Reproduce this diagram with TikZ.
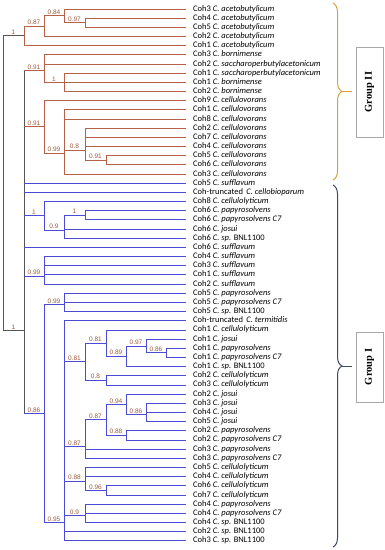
\documentclass[tikz,border=0pt]{standalone}
\usepackage{fontspec}
\setmainfont{Carlito}
\newfontfamily\labfont{Liberation Sans}
\newfontfamily\grpfont{Liberation Serif}
\usetikzlibrary{decorations.pathreplacing}
\definecolor{gII}{HTML}{B5614A}
\definecolor{gI}{HTML}{4B4BD6}
\definecolor{rootc}{HTML}{555555}
\definecolor{labc}{HTML}{9E5A3C}
\definecolor{braceII}{HTML}{D9A13F}
\definecolor{braceI}{HTML}{3E4A6A}
\definecolor{boxc}{HTML}{A8A8A8}
\newcommand\tredge[3]{\draw[#1] (#2 |- #3) -- (#3);}
\newcommand\tredgel[4]{\draw[#1] (#2 |- #3) -- node[bs]{#4} (#3);}
\newcommand\trvert[4]{\draw[#1] (#2 |- #3) -- (#2 |- #4);}
\begin{document}
\begin{tikzpicture}[x=1pt,y=-1pt,
  leaf/.style={anchor=west,inner xsep=7pt,inner ysep=0pt,text height=5.6pt,text depth=1.6pt,font=\fontsize{8.5}{9}\selectfont},
  redb/.style={line width=0.9pt,draw=gII,line cap=rect},
  blueb/.style={line width=0.9pt,draw=gI,line cap=rect},
  rootb/.style={line width=0.9pt,draw=rootc,line cap=rect},
  bs/.style={font=\labfont\fontsize{6.5}{7}\selectfont,text=labc,inner sep=0.9pt,above},
  grpbox/.style={draw=boxc,line width=0.7pt,fill=white,rotate=90,minimum height=27pt,inner sep=0pt,font=\grpfont\bfseries\fontsize{10.5}{12}\selectfont}
]
\useasboundingbox (0,0) rectangle (385,550);
% leaves
\node[leaf] (L1) at (186,9.00) {Coh3 \textit{C. acetobutylicum}};
\node[leaf] (L2) at (186,18.17) {Coh4 \textit{C. acetobutylicum}};
\node[leaf] (L3) at (186,27.34) {Coh5 \textit{C. acetobutylicum}};
\node[leaf] (L4) at (186,36.51) {Coh2 \textit{C. acetobutylicum}};
\node[leaf] (L5) at (186,45.68) {Coh1 \textit{C. acetobutylicum}};
\node[leaf] (L6) at (186,54.85) {Coh3 \textit{C. bornimense}};
\node[leaf] (L7) at (186,64.02) {Coh2 \textit{C. saccharoperbutylacetonicum}};
\node[leaf] (L8) at (186,73.19) {Coh1 \textit{C. saccharoperbutylacetonicum}};
\node[leaf] (L9) at (186,82.36) {Coh1 \textit{C. bornimense}};
\node[leaf] (L10) at (186,91.53) {Coh2 \textit{C. bornimense}};
\node[leaf] (L11) at (186,100.70) {Coh9 \textit{C. cellulovorans}};
\node[leaf] (L12) at (186,109.87) {Coh1 \textit{C. cellulovorans}};
\node[leaf] (L13) at (186,119.04) {Coh8 \textit{C. cellulovorans}};
\node[leaf] (L14) at (186,128.21) {Coh2 \textit{C. cellulovorans}};
\node[leaf] (L15) at (186,137.38) {Coh7 \textit{C. cellulovorans}};
\node[leaf] (L16) at (186,146.55) {Coh4 \textit{C. cellulovorans}};
\node[leaf] (L17) at (186,155.72) {Coh5 \textit{C. cellulovorans}};
\node[leaf] (L18) at (186,164.89) {Coh6 \textit{C. cellulovorans}};
\node[leaf] (L19) at (186,174.06) {Coh3 \textit{C. cellulovorans}};
\node[leaf] (L20) at (186,183.23) {Coh5 \textit{C. sufflavum}};
\node[leaf] (L21) at (186,192.40) {Coh-truncated\, \textit{C. cellobioparum}};
\node[leaf] (L22) at (186,201.57) {Coh8 \textit{C. cellulolyticum}};
\node[leaf] (L23) at (186,210.74) {Coh6 \textit{C. papyrosolvens}};
\node[leaf] (L24) at (186,219.91) {Coh6 \textit{C. papyrosolvens C7}};
\node[leaf] (L25) at (186,229.08) {Coh6 \textit{C. josui}};
\node[leaf] (L26) at (186,238.25) {Coh6 \textit{C. sp.} BNL1100};
\node[leaf] (L27) at (186,247.42) {Coh6 \textit{C. sufflavum}};
\node[leaf] (L28) at (186,256.59) {Coh4 \textit{C. sufflavum}};
\node[leaf] (L29) at (186,265.76) {Coh3 \textit{C. sufflavum}};
\node[leaf] (L30) at (186,274.93) {Coh1 \textit{C. sufflavum}};
\node[leaf] (L31) at (186,284.10) {Coh2 \textit{C. sufflavum}};
\node[leaf] (L32) at (186,293.27) {Coh5 \textit{C. papyrosolvens}};
\node[leaf] (L33) at (186,302.44) {Coh5 \textit{C. papyrosolvens C7}};
\node[leaf] (L34) at (186,311.61) {Coh5 \textit{C. sp.} BNL1100};
\node[leaf] (L35) at (186,320.78) {Coh-truncated\, \textit{C. termitidis}};
\node[leaf] (L36) at (186,329.95) {Coh1 \textit{C. cellulolyticum}};
\node[leaf] (L37) at (186,339.12) {Coh1 \textit{C. josui}};
\node[leaf] (L38) at (186,348.29) {Coh1 \textit{C. papyrosolvens}};
\node[leaf] (L39) at (186,357.46) {Coh1 \textit{C. papyrosolvens C7}};
\node[leaf] (L40) at (186,366.63) {Coh1 \textit{C. sp.} BNL1100};
\node[leaf] (L41) at (186,375.80) {Coh2 \textit{C. cellulolyticum}};
\node[leaf] (L42) at (186,384.97) {Coh3 \textit{C. cellulolyticum}};
\node[leaf] (L43) at (186,394.14) {Coh2 \textit{C. josui}};
\node[leaf] (L44) at (186,403.31) {Coh3 \textit{C. josui}};
\node[leaf] (L45) at (186,412.48) {Coh4 \textit{C. josui}};
\node[leaf] (L46) at (186,421.65) {Coh5 \textit{C. josui}};
\node[leaf] (L47) at (186,430.82) {Coh2 \textit{C. papyrosolvens}};
\node[leaf] (L48) at (186,439.99) {Coh2 \textit{C. papyrosolvens C7}};
\node[leaf] (L49) at (186,449.16) {Coh3 \textit{C. papyrosolvens}};
\node[leaf] (L50) at (186,458.33) {Coh3 \textit{C. papyrosolvens C7}};
\node[leaf] (L51) at (186,467.50) {Coh5 \textit{C. cellulolyticum}};
\node[leaf] (L52) at (186,476.67) {Coh4 \textit{C. cellulolyticum}};
\node[leaf] (L53) at (186,485.84) {Coh6 \textit{C. cellulolyticum}};
\node[leaf] (L54) at (186,495.01) {Coh7 \textit{C. cellulolyticum}};
\node[leaf] (L55) at (186,504.18) {Coh4 \textit{C. papyrosolvens}};
\node[leaf] (L56) at (186,513.35) {Coh4 \textit{C. papyrosolvens C7}};
\node[leaf] (L57) at (186,522.52) {Coh4 \textit{C. sp.} BNL1100};
\node[leaf] (L58) at (186,531.69) {Coh2 \textit{C. sp.} BNL1100};
\node[leaf] (L59) at (186,540.86) {Coh3 \textit{C. sp.} BNL1100};
% internal nodes
\coordinate (R) at (3,183.3);
\coordinate (nA1) at (24,35.94);
\coordinate (n087) at (44,26.19);
\coordinate (n084) at (64,15.88);
\coordinate (n097) at (85,22.76);
\coordinate (N2) at (24,330.66);
\coordinate (n091a) at (44,70.9);
\coordinate (nB1) at (64,82.4);
\coordinate (n091b) at (44,126.92);
\coordinate (n099a) at (64,153.14);
\coordinate (n08) at (85,149.99);
\coordinate (n091c) at (106,160.31);
\coordinate (nD1) at (44,215.9);
\coordinate (n09) at (64,230.23);
\coordinate (nC1) at (85,215.33);
\coordinate (n099b) at (44,276.08);
\coordinate (n086a) at (44,413.6);
\coordinate (n099c) at (64,304.73);
\coordinate (n095) at (64,522.5);
\coordinate (n081a) at (85,361.76);
\coordinate (n081b) at (106,343.13);
\coordinate (n089) at (126,356.32);
\coordinate (n097b) at (146,346.0);
\coordinate (n086b) at (166,352.88);
\coordinate (n08b) at (106,380.39);
\coordinate (n087b) at (85,446.44);
\coordinate (n087c) at (106,419.93);
\coordinate (n094) at (126,404.46);
\coordinate (n086c) at (146,414.77);
\coordinate (n088b) at (126,435.4);
\coordinate (n088a) at (85,481.26);
\coordinate (n096) at (106,490.43);
\coordinate (n09b) at (85,515.64);
% root
\trvert{rootb}{R}{nA1}{N2}
\tredgel{rootb}{R}{nA1}{1}
\tredgel{rootb}{R}{N2}{1}
% group II acetobutylicum
\trvert{redb}{nA1}{n087}{L5}
\tredgel{redb}{nA1}{n087}{0.87}
\tredge{redb}{nA1}{L5}
\trvert{redb}{n087}{n084}{L4}
\tredgel{redb}{n087}{n084}{0.84}
\tredge{redb}{n087}{L4}
\trvert{redb}{n084}{L1}{n097}
\tredge{redb}{n084}{L1}
\tredgel{redb}{n084}{n097}{0.97}
\trvert{redb}{n097}{L2}{L3}
\tredge{redb}{n097}{L2}
\tredge{redb}{n097}{L3}
% N2
\trvert{rootb}{N2}{n091a}{n086a}
\tredgel{redb}{N2}{n091a}{0.91}
\tredgel{redb}{N2}{n091b}{0.91}
\tredge{blueb}{N2}{L20}
\tredge{blueb}{N2}{L21}
\tredgel{blueb}{N2}{nD1}{1}
\tredge{blueb}{N2}{L27}
\tredgel{blueb}{N2}{n099b}{0.99}
\tredgel{blueb}{N2}{n086a}{0.86}
% bornimense
\trvert{redb}{n091a}{L6}{nB1}
\tredge{redb}{n091a}{L6}
\tredge{redb}{n091a}{L7}
\tredgel{redb}{n091a}{nB1}{1}
\trvert{redb}{nB1}{L8}{L10}
\tredge{redb}{nB1}{L8}
\tredge{redb}{nB1}{L9}
\tredge{redb}{nB1}{L10}
% cellulovorans
\trvert{redb}{n091b}{L11}{n099a}
\tredge{redb}{n091b}{L11}
\tredgel{redb}{n091b}{n099a}{0.99}
\trvert{redb}{n099a}{L12}{L19}
\tredge{redb}{n099a}{L12}
\tredge{redb}{n099a}{L13}
\tredgel{redb}{n099a}{n08}{0.8}
\tredge{redb}{n099a}{L19}
\trvert{redb}{n08}{L14}{n091c}
\tredge{redb}{n08}{L14}
\tredge{redb}{n08}{L15}
\tredge{redb}{n08}{L16}
\tredgel{redb}{n08}{n091c}{0.91}
\trvert{redb}{n091c}{L17}{L18}
\tredge{redb}{n091c}{L17}
\tredge{redb}{n091c}{L18}
% group I upper
\trvert{blueb}{nD1}{L22}{n09}
\tredge{blueb}{nD1}{L22}
\tredgel{blueb}{nD1}{n09}{0.9}
\trvert{blueb}{n09}{nC1}{L26}
\tredgel{blueb}{n09}{nC1}{1}
\tredge{blueb}{n09}{L25}
\tredge{blueb}{n09}{L26}
\trvert{blueb}{nC1}{L23}{L24}
\tredge{blueb}{nC1}{L23}
\tredge{blueb}{nC1}{L24}
\trvert{blueb}{n099b}{L28}{L31}
\tredge{blueb}{n099b}{L28}
\tredge{blueb}{n099b}{L29}
\tredge{blueb}{n099b}{L30}
\tredge{blueb}{n099b}{L31}
% 0.86 clade
\trvert{blueb}{n086a}{n099c}{n095}
\tredgel{blueb}{n086a}{n099c}{0.99}
\tredgel{blueb}{n086a}{n095}{0.95}
\trvert{blueb}{n099c}{L32}{L34}
\tredge{blueb}{n099c}{L32}
\tredge{blueb}{n099c}{L33}
\tredge{blueb}{n099c}{L34}
\trvert{blueb}{n095}{L35}{L59}
\tredge{blueb}{n095}{L35}
\tredgel{blueb}{n095}{n081a}{0.81}
\tredgel{blueb}{n095}{n087b}{0.87}
\tredgel{blueb}{n095}{n088a}{0.88}
\tredgel{blueb}{n095}{n09b}{0.9}
\tredge{blueb}{n095}{L58}
\tredge{blueb}{n095}{L59}
\trvert{blueb}{n081a}{n081b}{n08b}
\tredgel{blueb}{n081a}{n081b}{0.81}
\tredgel{blueb}{n081a}{n08b}{0.8}
\trvert{blueb}{n081b}{L36}{n089}
\tredge{blueb}{n081b}{L36}
\tredgel{blueb}{n081b}{n089}{0.89}
\trvert{blueb}{n089}{n097b}{L40}
\tredgel{blueb}{n089}{n097b}{0.97}
\tredge{blueb}{n089}{L40}
\trvert{blueb}{n097b}{L37}{n086b}
\tredge{blueb}{n097b}{L37}
\tredgel{blueb}{n097b}{n086b}{0.86}
\trvert{blueb}{n086b}{L38}{L39}
\tredge{blueb}{n086b}{L38}
\tredge{blueb}{n086b}{L39}
\trvert{blueb}{n08b}{L41}{L42}
\tredge{blueb}{n08b}{L41}
\tredge{blueb}{n08b}{L42}
\trvert{blueb}{n087b}{n087c}{L50}
\tredgel{blueb}{n087b}{n087c}{0.87}
\tredge{blueb}{n087b}{L49}
\tredge{blueb}{n087b}{L50}
\trvert{blueb}{n087c}{n094}{n088b}
\tredgel{blueb}{n087c}{n094}{0.94}
\tredgel{blueb}{n087c}{n088b}{0.88}
\trvert{blueb}{n094}{L43}{n086c}
\tredge{blueb}{n094}{L43}
\tredgel{blueb}{n094}{n086c}{0.86}
\trvert{blueb}{n086c}{L44}{L46}
\tredge{blueb}{n086c}{L44}
\tredge{blueb}{n086c}{L45}
\tredge{blueb}{n086c}{L46}
\trvert{blueb}{n088b}{L47}{L48}
\tredge{blueb}{n088b}{L47}
\tredge{blueb}{n088b}{L48}
\trvert{blueb}{n088a}{L51}{n096}
\tredge{blueb}{n088a}{L51}
\tredge{blueb}{n088a}{L52}
\tredgel{blueb}{n088a}{n096}{0.96}
\trvert{blueb}{n096}{L53}{L54}
\tredge{blueb}{n096}{L53}
\tredge{blueb}{n096}{L54}
\trvert{blueb}{n09b}{L55}{L57}
\tredge{blueb}{n09b}{L55}
\tredge{blueb}{n09b}{L56}
\tredge{blueb}{n09b}{L57}
% braces and group boxes
\coordinate (bIIt) at (333,3);
\coordinate (bIIb) at (333,180);
\coordinate (tipII) at (342,91.5);
\coordinate (endII) at (352,91.5);
\draw[braceII,line width=1pt,decorate,decoration={brace,amplitude=9pt}] (bIIt) -- (bIIb);
\draw[braceII,line width=1pt] (tipII) -- (endII);
\node[grpbox,minimum width=90pt] (gbII) at (369.5,92) {Group II};
\coordinate (bIt) at (333,185);
\coordinate (bIb) at (333,547);
\coordinate (tipI) at (342,366);
\coordinate (endI) at (352,366);
\draw[braceI,line width=1pt,decorate,decoration={brace,amplitude=9pt}] (bIt) -- (bIb);
\draw[braceI,line width=1pt] (tipI) -- (endI);
\node[grpbox,minimum width=70pt] (gbI) at (369.5,367) {Group I};
\end{tikzpicture}
\end{document}
